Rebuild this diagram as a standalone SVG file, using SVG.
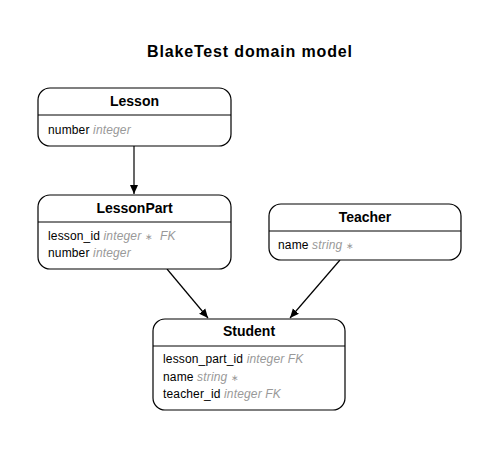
<svg xmlns="http://www.w3.org/2000/svg" width="499" height="450" viewBox="0 0 499 450">
<style>
.box{fill:#fff;stroke:#000;stroke-width:1.2}
.div{stroke:#000;stroke-width:1}
.title{font-family:"Liberation Sans",Arial,sans-serif;font-weight:bold;font-size:14px;text-anchor:middle}
.attr{font-family:"Liberation Sans",Arial,sans-serif;font-size:12px;fill:#000;letter-spacing:0.15px}
.type{font-style:italic;fill:#999}
.star{font-style:normal;font-size:9px;fill:#999}
.edge{stroke:#000;stroke-width:1.2;fill:none}
</style>
<defs>
<marker id="arr" markerWidth="10" markerHeight="10" refX="9" refY="5" orient="auto" markerUnits="userSpaceOnUse">
<path d="M0,1 L9,5 L0,9 Z" fill="#000"/>
</marker>
</defs>
<rect width="499" height="450" fill="#fff"/>
<text x="147" y="57" textLength="205" lengthAdjust="spacing" style="font-family:'Liberation Sans',Arial,sans-serif;font-weight:bold;font-size:16px">BlakeTest domain model</text>
<g id="connectors">
<line class="edge" x1="134" y1="146" x2="134" y2="194" marker-end="url(#arr)"/>
<line class="edge" x1="167" y1="269" x2="208" y2="318" marker-end="url(#arr)"/>
<line class="edge" x1="340" y1="260" x2="290" y2="318" marker-end="url(#arr)"/>
</g>
<g id="Lesson">
<rect class="box" x="38" y="88" width="193" height="58" rx="12"/>
<line class="div" x1="38" y1="115" x2="231" y2="115"/>
<text class="title" x="134.5" y="106">Lesson</text>
<text class="attr" x="48" y="134">number <tspan class="type">integer</tspan></text>
</g>
<g id="LessonPart">
<rect class="box" x="38" y="195" width="193" height="74" rx="12"/>
<line class="div" x1="38" y1="222" x2="231" y2="222"/>
<text class="title" x="134.5" y="213">LessonPart</text>
<text class="attr" x="48" y="240">lesson_id <tspan class="type">integer <tspan class="star">∗</tspan>&#160;&#160;FK</tspan></text>
<text class="attr" x="48" y="257">number <tspan class="type">integer</tspan></text>
</g>
<g id="Teacher">
<rect class="box" x="269" y="204" width="192" height="56" rx="12"/>
<line class="div" x1="269" y1="231" x2="461" y2="231"/>
<text class="title" x="365" y="222">Teacher</text>
<text class="attr" x="278" y="249">name <tspan class="type">string <tspan class="star">∗</tspan></tspan></text>
</g>
<g id="Student">
<rect class="box" x="153" y="319" width="192" height="91" rx="12"/>
<line class="div" x1="153" y1="346" x2="345" y2="346"/>
<text class="title" x="249" y="336">Student</text>
<text class="attr" x="163" y="363">lesson_part_id <tspan class="type">integer FK</tspan></text>
<text class="attr" x="163" y="381">name <tspan class="type">string <tspan class="star">∗</tspan></tspan></text>
<text class="attr" x="163" y="398">teacher_id <tspan class="type">integer FK</tspan></text>
</g>
</svg>
